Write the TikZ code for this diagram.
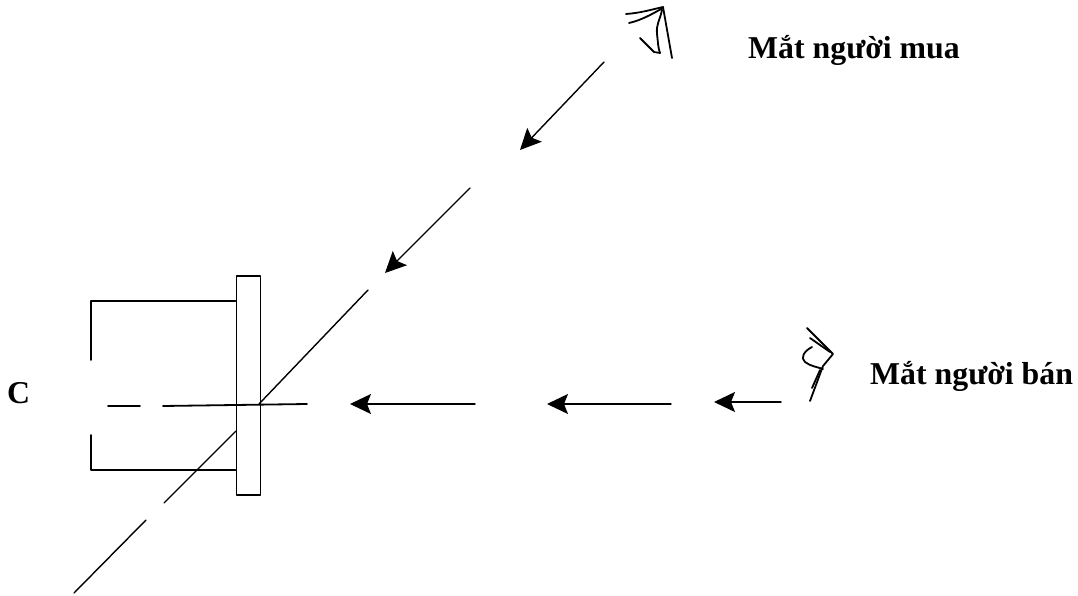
\documentclass[tikz,border=0pt]{standalone}
\usepackage{fontspec}
\setmainfont{Liberation Serif}
\usetikzlibrary{arrows.meta}
\tikzset{
  ink/.style={draw=black,line width=1.8pt,line cap=round,line join=round},
  thinink/.style={draw=black,line width=1.4pt,line cap=round,line join=round},
  arrowline/.style={thinink,-{Stealth[length=21pt,width=20pt,inset=4pt]}},
  lab/.style={font=\bfseries\fontsize{31.8}{34}\selectfont,anchor=base west,inner sep=0pt,text=black}
}
\begin{document}
\begin{tikzpicture}[x=1pt,y=-1pt]
\useasboundingbox (0,0) rectangle (1078,596);
% labels
\node[lab] (buyer) at (748,59) {Mắt người mua};
\node[lab] (seller) at (870,384) {Mắt người bán};
\node[lab] (c) at (7,403) {C};
% plate
\node[ink,minimum width=24pt,minimum height=219pt,inner sep=0pt,anchor=north west] (plate) at (235.5,275) {};
% body
\coordinate (bt) at (91,301);
\coordinate (bb) at (91,470);
\coordinate (bl1) at (91,360);
\coordinate (bl2) at (91,435);
\draw[ink] (bl1) -- (bt) -- (plate.west |- bt);
\draw[ink] (bl2) -- (bb) -- (plate.west |- bb);
% horizontal axis
\coordinate (h1) at (108,406);
\coordinate (h2) at (140,406);
\coordinate (h3) at (163,406);
\coordinate (h4) at (307,404);
\draw[ink] (h1) -- (h2);
\draw[ink] (h3) -- (h4);
% diagonal line
\coordinate (d1) at (259,404);
\coordinate (d2) at (368,290);
\coordinate (d3) at (236,431);
\coordinate (d4) at (164,503);
\coordinate (d5) at (146,520);
\coordinate (d6) at (74,593);
\draw[thinink] (d1) -- (d2);
\draw[thinink] (d3) -- (d4);
\draw[thinink] (d5) -- (d6);
% diagonal arrows
\coordinate (a1s) at (470,188);
\coordinate (a1e) at (385,273);
\coordinate (a2s) at (604,62);
\coordinate (a2e) at (520,150);
\draw[arrowline] (a1s) -- (a1e);
\draw[arrowline] (a2s) -- (a2e);
% horizontal arrows
\coordinate (b1s) at (475,404);
\coordinate (b1e) at (350,404);
\coordinate (b2s) at (671,404);
\coordinate (b2e) at (547,404);
\coordinate (b3s) at (781,402);
\coordinate (b3e) at (714,402);
\draw[arrowline] (b1s) -- (b1e);
\draw[arrowline] (b2s) -- (b2e);
\draw[arrowline] (b3s) -- (b3e);
% buyer's eye
\draw[ink] (626,14) .. controls (640,13) and (650,10) .. (663,7) -- (672,58);
\draw[ink] (629,23) .. controls (642,20) and (652,14) .. (663,8);
\draw[ink] (662,10) .. controls (660,20) and (656,24) .. (657,34) .. controls (658,42) and (658,48) .. (660,53);
\draw[ink] (640,38) -- (654,52) -- (660,53);
% seller's eye
\draw[ink] (807,328) -- (833,354) -- (823,366) -- (810,401);
\draw[ink] (810,338) -- (830,352);
\draw[ink] (812,388) -- (820,370);
\draw[ink] (812,347) .. controls (804,351) and (800,358) .. (805,362) .. controls (810,366) and (817,367) .. (823,369);
\end{tikzpicture}
\end{document}
